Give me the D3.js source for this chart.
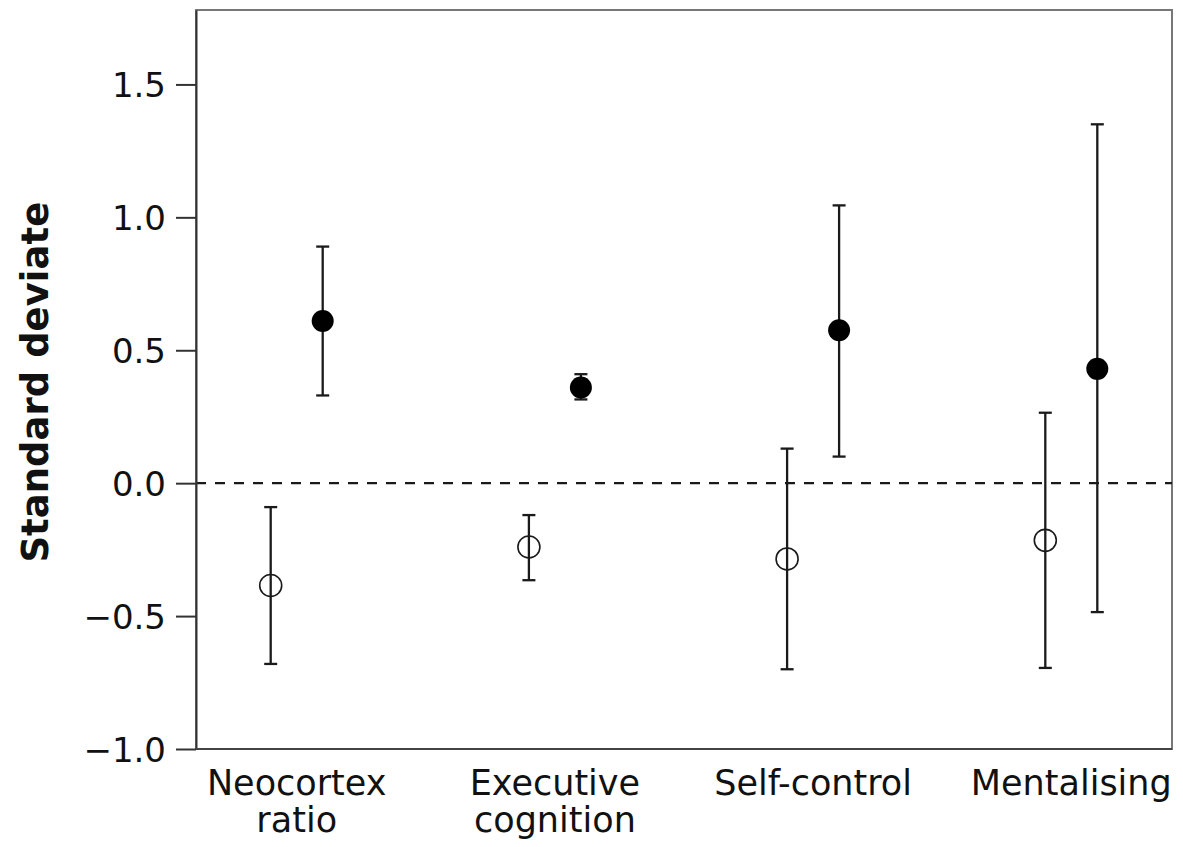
<!DOCTYPE html>
<html>
<head>
<meta charset="utf-8">
<script src="https://cdn.jsdelivr.net/npm/d3@7"></script>
<style>
	body { margin: 0; background: #fff; }
	svg text { font-family: "DejaVu Sans", sans-serif; fill: #111; }
	.tick-text { font-size: 34px; }
	.cat-text { font-size: 35px; }
	.y-title { font-size: 37px; font-weight: bold; }
</style>
</head>
<body>
<svg id="chart" width="1183" height="847"></svg>
<script>
// data
const categories = ["Neocortex ratio", "Executive cognition", "Self-control", "Mentalising"];
const categoryLines = [["Neocortex", "ratio"], ["Executive", "cognition"], ["Self-control"], ["Mentalising"]];
const series = ["open", "filled"];

const openMean = [-0.385, -0.24, -0.285, -0.215];
const openLow = [-0.68, -0.365, -0.70, -0.695];
const openHigh = [-0.09, -0.12, 0.13, 0.265];

const filledMean = [0.61, 0.36, 0.575, 0.43];
const filledLow = [0.33, 0.315, 0.10, -0.485];
const filledHigh = [0.89, 0.41, 1.045, 1.35];

const yTicks = [-1.0, -0.5, 0.0, 0.5, 1.0, 1.5];

const width = 1183;
const height = 847;
const margin = {
	top: 10,
	right: 11,
	bottom: 98,
	left: 196
};

const svg = d3.select("#chart");

const y = d3.scaleLinear()
	.domain([-1.0, 1.78])
	.range([height - margin.bottom, margin.top]);

const x = d3.scalePoint()
	.domain(categories)
	.range([margin.left, width - margin.right])
	.padding(0.39);

const xSeries = d3.scalePoint()
	.domain(series)
	.range([-26, 26]);

// frame
svg.append("rect")
	.attr("x", margin.left)
	.attr("y", margin.top)
	.attr("width", width - margin.right - margin.left)
	.attr("height", height - margin.bottom - margin.top)
	.attr("fill", "none")
	.attr("stroke", "#777")
	.attr("stroke-width", 2);

// zero line
svg.append("line")
	.attr("x1", margin.left)
	.attr("x2", width - margin.right)
	.attr("y1", y(0))
	.attr("y2", y(0))
	.attr("stroke", "#1a1a1a")
	.attr("stroke-width", 2.2)
	.attr("stroke-dasharray", "10,9");

// y axis
const yAxis = svg.append("g")
	.attr("transform", `translate(${margin.left},0)`)
	.call(d3.axisLeft(y).tickValues(yTicks).tickSize(20).tickSizeOuter(0).tickPadding(10).tickFormat(d3.format(".1f")));

yAxis.select(".domain").attr("stroke", "#333").attr("stroke-width", 2);
yAxis.selectAll(".tick line").attr("stroke", "#333").attr("stroke-width", 2);
yAxis.selectAll(".tick text")
	.attr("class", "tick-text")
	.attr("font-size", null)
	.attr("font-family", null)
	.attr("dy", "0.36em");

// bottom axis line
svg.append("line")
	.attr("x1", margin.left)
	.attr("x2", width - margin.right)
	.attr("y1", y(-1))
	.attr("y2", y(-1))
	.attr("stroke", "#444")
	.attr("stroke-width", 2);

// category labels
const catGroup = svg.append("g").attr("class", "cat-group");
categories.forEach((c, i) => {
	const t = catGroup.append("text")
		.attr("class", "cat-text")
		.attr("text-anchor", "middle")
		.attr("x", x(c))
		.attr("y", y(-1) + 46);
	categoryLines[i].forEach((line, j) => {
		t.append("tspan")
			.attr("x", x(c))
			.attr("dy", j === 0 ? 0 : 37)
			.text(line);
	});
});

// y title
svg.append("text")
	.attr("class", "y-title")
	.attr("text-anchor", "middle")
	.attr("transform", `translate(48, ${y(0.38)}) rotate(-90)`)
	.text("Standard deviate");

// points and error bars
const rows = [];
categories.forEach((c, i) => {
	rows.push({ cat: c, s: "open", mean: openMean[i], low: openLow[i], high: openHigh[i] });
	rows.push({ cat: c, s: "filled", mean: filledMean[i], low: filledLow[i], high: filledHigh[i] });
});

const markGroup = svg.append("g").attr("class", "mark-group");
const capHalf = 6.5;

rows.forEach((d) => {
	const cx = x(d.cat) + xSeries(d.s);
	const g = markGroup.append("g").attr("stroke", "#1a1a1a").attr("stroke-width", 2.3);

	g.append("line")
		.attr("x1", cx).attr("x2", cx)
		.attr("y1", y(d.high)).attr("y2", y(d.low));

	g.append("line")
		.attr("x1", cx - capHalf).attr("x2", cx + capHalf)
		.attr("y1", y(d.high)).attr("y2", y(d.high));

	g.append("line")
		.attr("x1", cx - capHalf).attr("x2", cx + capHalf)
		.attr("y1", y(d.low)).attr("y2", y(d.low));

	if (d.s === "open") {
		g.append("circle")
			.attr("cx", cx).attr("cy", y(d.mean))
			.attr("r", 11)
			.attr("fill", "none")
			.attr("stroke", "#1a1a1a")
			.attr("stroke-width", 1.6);
	} else {
		g.append("circle")
			.attr("cx", cx).attr("cy", y(d.mean))
			.attr("r", 11)
			.attr("fill", "#000")
			.attr("stroke", "none");
	}
});
</script>
</body>
</html>
